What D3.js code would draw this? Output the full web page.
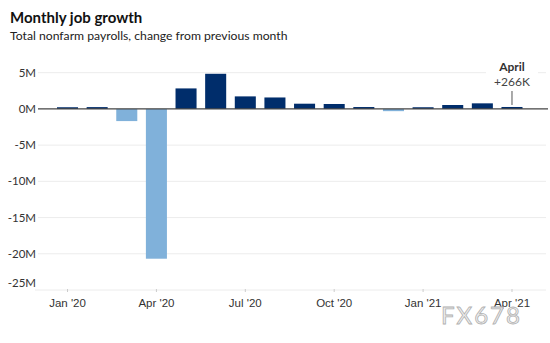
<!DOCTYPE html>
<html>
<head>
<meta charset="utf-8">
<script src="https://cdn.jsdelivr.net/npm/d3@7"></script>
<style>
  body { margin: 0; background: #fff; }
  svg { font-family: Lato, "Open Sans", sans-serif; }
  .axis text { fill: #333; font-size: 11.5px; }
</style>
</head>
<body>
<script>
// months shown on the chart (Jan 2020 - Apr 2021)
var months = ["2020-01", "2020-02", "2020-03", "2020-04", "2020-05", "2020-06",
              "2020-07", "2020-08", "2020-09", "2020-10", "2020-11", "2020-12",
              "2021-01", "2021-02", "2021-03", "2021-04"];
// change in payrolls, millions
var jobs = [0.23, 0.25, -1.68, -20.68, 2.83, 4.85,
            1.73, 1.58, 0.72, 0.68, 0.26, -0.31,
            0.23, 0.54, 0.77, 0.266];
var yTicks = [5, 0, -5, -10, -15, -20, -25];
var xTickMonths = ["2020-01", "2020-04", "2020-07", "2020-10", "2021-01", "2021-04"];
var xTickLabels = ["Jan '20", "Apr '20", "Jul '20", "Oct '20", "Jan '21", "Apr '21"];

var width = 550,
    height = 343;

var svg = d3.select("body")
    .append("svg")
    .attr("width", width)
    .attr("height", height);

// titles
svg.append("text")
    .attr("x", 10).attr("y", 23)
    .style("font-size", "15px").style("font-weight", "bold")
    .attr("fill", "#111")
    .text("Monthly job growth");
svg.append("text")
    .attr("x", 10).attr("y", 40)
    .style("font-size", "12.2px")
    .attr("fill", "#222")
    .text("Total nonfarm payrolls, change from previous month");

var xScale = d3.scaleBand()
    .domain(months)
    .range([52.7, 526.8])
    .paddingInner(0.29)
    .paddingOuter(0.145);

var yScale = d3.scaleLinear()
    .domain([-25, 5])
    .range([290, 72.7]);

// gridlines
svg.append("g")
    .selectAll("line")
    .data(yTicks.filter(function(d) { return d !== 0 && d !== -25; }))
    .enter()
    .append("line")
        .attr("x1", 38).attr("x2", 546)
        .attr("y1", function(d) { return yScale(d); })
        .attr("y2", function(d) { return yScale(d); })
        .attr("stroke", "#ececec");

// y labels
svg.append("g")
    .attr("class", "axis")
    .selectAll("text")
    .data(yTicks)
    .enter()
    .append("text")
        .attr("x", 36)
        .attr("y", function(d) { return yScale(d) + (d === -25 ? -7 : 0); })
        .attr("dy", "0.35em")
        .attr("text-anchor", "end")
        .text(function(d) { return d + "M"; });

// bottom axis
var xAxis = d3.axisBottom(xScale)
    .tickValues(xTickMonths)
    .tickSize(3)
    .tickPadding(6)
    .tickFormat(function(d) { return xTickLabels[xTickMonths.indexOf(d)]; });
var gx = svg.append("g")
    .attr("class", "axis")
    .attr("transform", "translate(0,290)")
    .call(xAxis);
gx.select(".domain").remove();
gx.selectAll(".tick line").attr("stroke", "#ccc").attr("y1", -1).attr("y2", 2);
gx.insert("line", ":first-child")
    .attr("x1", 35).attr("x2", 546)
    .attr("stroke", "#ececec");

// bars
svg.append("g")
    .selectAll("rect")
    .data(jobs)
    .enter()
    .append("rect")
        .attr("x", function(d, i) { return xScale(months[i]); })
        .attr("width", xScale.bandwidth())
        .attr("y", function(d) { return yScale(Math.max(d, 0)); })
        .attr("height", function(d) { return Math.abs(yScale(d) - yScale(0)); })
        .attr("fill", function(d) { return d < 0 ? "#80b1da" : "#002d6b"; });

// zero line
svg.append("line")
    .attr("x1", 38).attr("x2", 548)
    .attr("y1", yScale(0)).attr("y2", yScale(0))
    .attr("stroke", "#444").attr("stroke-width", 1.2);

// annotation for last month
var last = months.length - 1;
var ax = xScale(months[last]) + xScale.bandwidth() / 2;
var note = svg.append("g");
note.append("rect")
    .attr("x", ax - 26).attr("y", 57)
    .attr("width", 52).attr("height", 30)
    .attr("fill", "#fff");
note.append("text")
    .attr("x", ax).attr("y", 71)
    .attr("text-anchor", "middle")
    .style("font-size", "12px").style("font-weight", "bold")
    .attr("fill", "#333")
    .text("April");
note.append("text")
    .attr("x", ax).attr("y", 86)
    .attr("text-anchor", "middle")
    .style("font-size", "12px")
    .attr("fill", "#444")
    .text("+" + Math.round(jobs[last] * 1000) + "K");
note.append("line")
    .attr("x1", ax).attr("x2", ax)
    .attr("y1", 91).attr("y2", yScale(jobs[last]) - 2)
    .attr("stroke", "#555");

// watermark
svg.append("text")
    .attr("x", 441).attr("y", 324)
    .style("font-size", "24px")
    .style("letter-spacing", "2px")
    .attr("fill", "#eeeeee")
    .attr("stroke", "#b0b0b0")
    .attr("stroke-width", 0.8)
    .text("FX678");
</script>
</body>
</html>
